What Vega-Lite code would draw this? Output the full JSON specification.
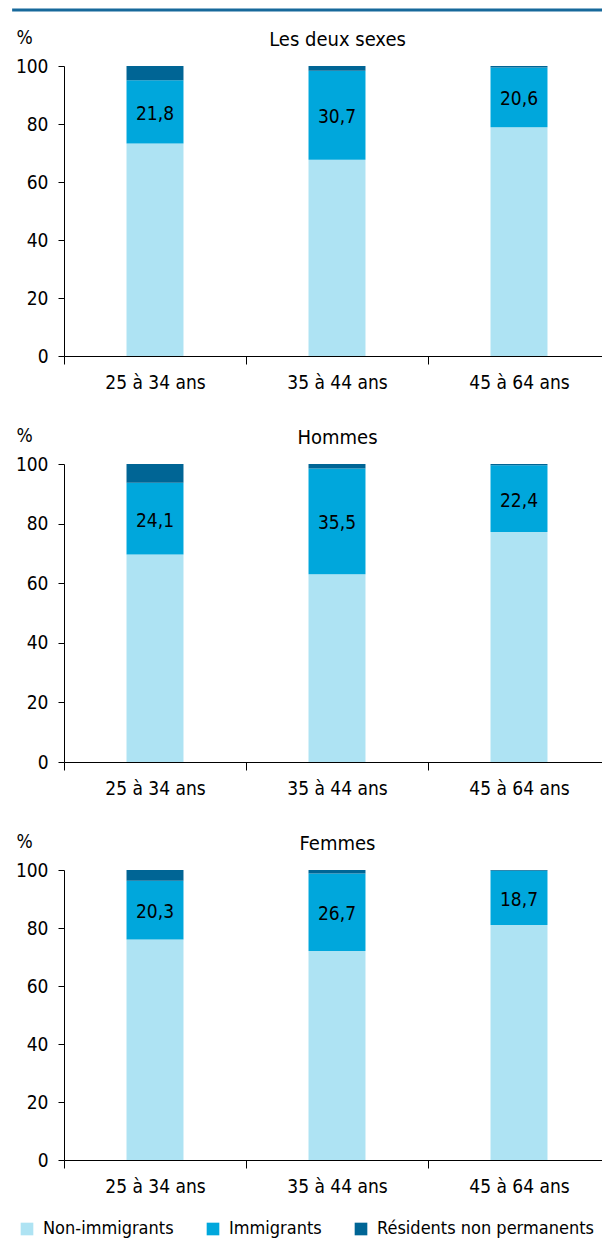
{
  "$schema": "https://vega.github.io/schema/vega-lite/v6.json",
  "padding": {"left": 10, "top": 8, "right": 0, "bottom": 5},
  "config": {
    "font": "DejaVu Sans Condensed, sans-serif",
    "locale": {"number": {"decimal": ",", "thousands": " ", "grouping": [3], "currency": ["", " $"]}},
    "view": {"stroke": null},
    "axis": {"labelFontSize": 19, "labelColor": "#000", "domainColor": "#000", "tickColor": "#000", "grid": false, "titleFontSize": 20, "titleFontWeight": "normal", "titleColor": "#000"},
    "legend": {"orient": "none", "legendX": -46, "legendY": 1154, "direction": "horizontal", "symbolType": "square", "symbolSize": 160, "symbolStrokeWidth": 0, "labelFontSize": 18, "labelColor": "#000", "labelLimit": 0, "columnPadding": 30, "labelOffset": 7, "title": null},
    "concat": {"spacing": 34}
  },
  "data": {"values": [
    {"panel": "Les deux sexes", "age": "25 à 34 ans", "statut": "Non-immigrants", "valeur": 73.3},
    {"panel": "Les deux sexes", "age": "25 à 34 ans", "statut": "Immigrants", "valeur": 21.8},
    {"panel": "Les deux sexes", "age": "25 à 34 ans", "statut": "Résidents non permanents", "valeur": 4.9},
    {"panel": "Les deux sexes", "age": "35 à 44 ans", "statut": "Non-immigrants", "valeur": 67.7},
    {"panel": "Les deux sexes", "age": "35 à 44 ans", "statut": "Immigrants", "valeur": 30.7},
    {"panel": "Les deux sexes", "age": "35 à 44 ans", "statut": "Résidents non permanents", "valeur": 1.6},
    {"panel": "Les deux sexes", "age": "45 à 64 ans", "statut": "Non-immigrants", "valeur": 78.9},
    {"panel": "Les deux sexes", "age": "45 à 64 ans", "statut": "Immigrants", "valeur": 20.6},
    {"panel": "Les deux sexes", "age": "45 à 64 ans", "statut": "Résidents non permanents", "valeur": 0.5},
    {"panel": "Hommes", "age": "25 à 34 ans", "statut": "Non-immigrants", "valeur": 69.6},
    {"panel": "Hommes", "age": "25 à 34 ans", "statut": "Immigrants", "valeur": 24.1},
    {"panel": "Hommes", "age": "25 à 34 ans", "statut": "Résidents non permanents", "valeur": 6.3},
    {"panel": "Hommes", "age": "35 à 44 ans", "statut": "Non-immigrants", "valeur": 63.0},
    {"panel": "Hommes", "age": "35 à 44 ans", "statut": "Immigrants", "valeur": 35.5},
    {"panel": "Hommes", "age": "35 à 44 ans", "statut": "Résidents non permanents", "valeur": 1.5},
    {"panel": "Hommes", "age": "45 à 64 ans", "statut": "Non-immigrants", "valeur": 77.2},
    {"panel": "Hommes", "age": "45 à 64 ans", "statut": "Immigrants", "valeur": 22.4},
    {"panel": "Hommes", "age": "45 à 64 ans", "statut": "Résidents non permanents", "valeur": 0.4},
    {"panel": "Femmes", "age": "25 à 34 ans", "statut": "Non-immigrants", "valeur": 76.0},
    {"panel": "Femmes", "age": "25 à 34 ans", "statut": "Immigrants", "valeur": 20.3},
    {"panel": "Femmes", "age": "25 à 34 ans", "statut": "Résidents non permanents", "valeur": 3.7},
    {"panel": "Femmes", "age": "35 à 44 ans", "statut": "Non-immigrants", "valeur": 72.1},
    {"panel": "Femmes", "age": "35 à 44 ans", "statut": "Immigrants", "valeur": 26.7},
    {"panel": "Femmes", "age": "35 à 44 ans", "statut": "Résidents non permanents", "valeur": 1.2},
    {"panel": "Femmes", "age": "45 à 64 ans", "statut": "Non-immigrants", "valeur": 81.0},
    {"panel": "Femmes", "age": "45 à 64 ans", "statut": "Immigrants", "valeur": 18.7},
    {"panel": "Femmes", "age": "45 à 64 ans", "statut": "Résidents non permanents", "valeur": 0.3}
  ]},
  "vconcat": [
    {
      "width": 546, "height": 290,
      "transform": [
        {"filter": "datum.panel === 'Les deux sexes'"},
        {"calculate": "indexof(['Non-immigrants','Immigrants','Résidents non permanents'], datum.statut)", "as": "ordre"},
        {"stack": "valeur", "groupby": ["age"], "sort": [{"field": "ordre"}], "as": ["v0", "v1"]}
      ],
      "layer": [
        {
          "mark": {"type": "bar", "width": {"band": 0.313}},
          "encoding": {
            "x": {"field": "age", "type": "nominal", "title": null, "scale": {"paddingInner": 0, "paddingOuter": 0}, "axis": {"orient": "bottom", "tickBand": "extent", "tickSize": 8, "labelPadding": 9, "labelAngle": 0}},
            "y": {"field": "v0", "type": "quantitative", "title": "%", "scale": {"domain": [0, 100]}, "axis": {"values": [0, 20, 40, 60, 80, 100], "tickSize": 6, "labelPadding": 10, "titleFontSize": 19, "titleAngle": 0, "titleAlign": "left", "titleBaseline": "alphabetic", "titleX": -48, "titleY": -23}},
            "y2": {"field": "v1"},
            "color": {"field": "statut", "type": "nominal", "scale": {"domain": ["Non-immigrants", "Immigrants", "Résidents non permanents"], "range": ["#aee3f3", "#00a7dc", "#006595"]}}
          }
        },
        {
          "transform": [{"filter": "datum.statut === 'Immigrants'"}, {"calculate": "(datum.v0 + datum.v1) / 2", "as": "milieu"}],
          "mark": {"type": "text", "fontSize": 19, "dy": 2, "color": "#000"},
          "encoding": {
            "x": {"field": "age", "type": "nominal", "title": "Les deux sexes", "scale": {"paddingInner": 0, "paddingOuter": 0}, "axis": {"orient": "top", "labels": false, "ticks": false, "domain": false, "titleX": 273, "titleY": -21, "titleAlign": "center", "titleBaseline": "alphabetic"}},
            "y": {"field": "milieu", "type": "quantitative", "title": "%"},
            "text": {"field": "valeur", "type": "quantitative", "format": ".1f"}
          }
        },
        {
          "data": {"values": [{"ligne": "haut"}]},
          "mark": {"type": "rule", "color": "#17699b", "strokeWidth": 3},
          "encoding": {
            "x": {"datum": -0.095, "type": "quantitative", "scale": {"domain": [0, 1]}, "axis": null},
            "x2": {"datum": 1},
            "y": {"datum": 119.3, "type": "quantitative"}
          }
        }
      ],
      "resolve": {"scale": {"x": "independent"}, "axis": {"x": "independent"}}
    },
    {
      "width": 546, "height": 298,
      "transform": [
        {"filter": "datum.panel === 'Hommes'"},
        {"calculate": "indexof(['Non-immigrants','Immigrants','Résidents non permanents'], datum.statut)", "as": "ordre"},
        {"stack": "valeur", "groupby": ["age"], "sort": [{"field": "ordre"}], "as": ["v0", "v1"]}
      ],
      "layer": [
        {
          "mark": {"type": "bar", "width": {"band": 0.313}},
          "encoding": {
            "x": {"field": "age", "type": "nominal", "title": null, "scale": {"paddingInner": 0, "paddingOuter": 0}, "axis": {"orient": "bottom", "tickBand": "extent", "tickSize": 8, "labelPadding": 9, "labelAngle": 0}},
            "y": {"field": "v0", "type": "quantitative", "title": "%", "scale": {"domain": [0, 100]}, "axis": {"values": [0, 20, 40, 60, 80, 100], "tickSize": 6, "labelPadding": 10, "titleFontSize": 19, "titleAngle": 0, "titleAlign": "left", "titleBaseline": "alphabetic", "titleX": -48, "titleY": -23}},
            "y2": {"field": "v1"},
            "color": {"field": "statut", "type": "nominal", "scale": {"domain": ["Non-immigrants", "Immigrants", "Résidents non permanents"], "range": ["#aee3f3", "#00a7dc", "#006595"]}}
          }
        },
        {
          "transform": [{"filter": "datum.statut === 'Immigrants'"}, {"calculate": "(datum.v0 + datum.v1) / 2", "as": "milieu"}],
          "mark": {"type": "text", "fontSize": 19, "dy": 2, "color": "#000"},
          "encoding": {
            "x": {"field": "age", "type": "nominal", "title": "Hommes", "scale": {"paddingInner": 0, "paddingOuter": 0}, "axis": {"orient": "top", "labels": false, "ticks": false, "domain": false, "titleX": 273, "titleY": -21, "titleAlign": "center", "titleBaseline": "alphabetic"}},
            "y": {"field": "milieu", "type": "quantitative", "title": "%"},
            "text": {"field": "valeur", "type": "quantitative", "format": ".1f"}
          }
        }
      ],
      "resolve": {"scale": {"x": "independent"}, "axis": {"x": "independent"}}
    },
    {
      "width": 546, "height": 290,
      "transform": [
        {"filter": "datum.panel === 'Femmes'"},
        {"calculate": "indexof(['Non-immigrants','Immigrants','Résidents non permanents'], datum.statut)", "as": "ordre"},
        {"stack": "valeur", "groupby": ["age"], "sort": [{"field": "ordre"}], "as": ["v0", "v1"]}
      ],
      "layer": [
        {
          "mark": {"type": "bar", "width": {"band": 0.313}},
          "encoding": {
            "x": {"field": "age", "type": "nominal", "title": null, "scale": {"paddingInner": 0, "paddingOuter": 0}, "axis": {"orient": "bottom", "tickBand": "extent", "tickSize": 8, "labelPadding": 9, "labelAngle": 0}},
            "y": {"field": "v0", "type": "quantitative", "title": "%", "scale": {"domain": [0, 100]}, "axis": {"values": [0, 20, 40, 60, 80, 100], "tickSize": 6, "labelPadding": 10, "titleFontSize": 19, "titleAngle": 0, "titleAlign": "left", "titleBaseline": "alphabetic", "titleX": -48, "titleY": -23}},
            "y2": {"field": "v1"},
            "color": {"field": "statut", "type": "nominal", "scale": {"domain": ["Non-immigrants", "Immigrants", "Résidents non permanents"], "range": ["#aee3f3", "#00a7dc", "#006595"]}}
          }
        },
        {
          "transform": [{"filter": "datum.statut === 'Immigrants'"}, {"calculate": "(datum.v0 + datum.v1) / 2", "as": "milieu"}],
          "mark": {"type": "text", "fontSize": 19, "dy": 2, "color": "#000"},
          "encoding": {
            "x": {"field": "age", "type": "nominal", "title": "Femmes", "scale": {"paddingInner": 0, "paddingOuter": 0}, "axis": {"orient": "top", "labels": false, "ticks": false, "domain": false, "titleX": 273, "titleY": -21, "titleAlign": "center", "titleBaseline": "alphabetic"}},
            "y": {"field": "milieu", "type": "quantitative", "title": "%"},
            "text": {"field": "valeur", "type": "quantitative", "format": ".1f"}
          }
        }
      ],
      "resolve": {"scale": {"x": "independent"}, "axis": {"x": "independent"}}
    }
  ]
}
